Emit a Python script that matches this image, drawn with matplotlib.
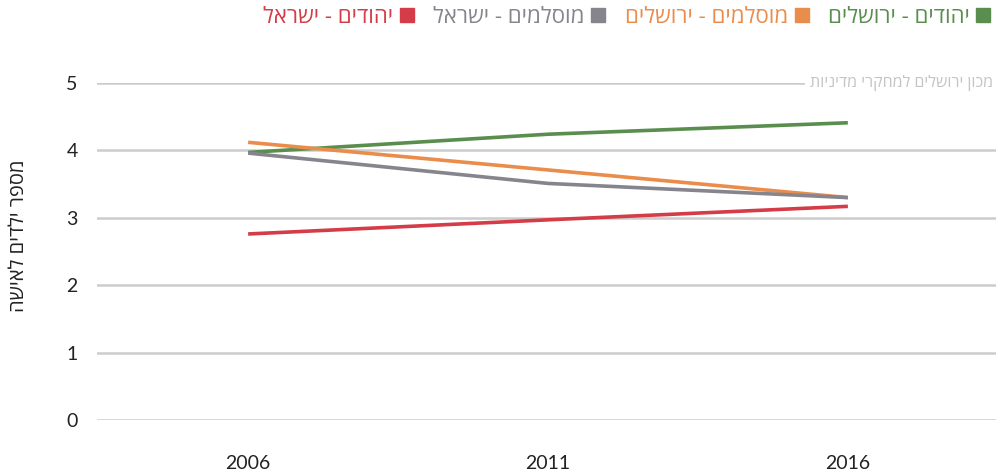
import matplotlib
matplotlib.use("Agg")
import matplotlib.pyplot as plt
from matplotlib.font_manager import FontProperties
from matplotlib.lines import Line2D

years = [2006, 2011, 2016]
jews_jerusalem = [3.97, 4.24, 4.41]
muslims_jerusalem = [4.12, 3.71, 3.30]
muslims_israel = [3.96, 3.51, 3.30]
jews_israel = [2.76, 2.97, 3.17]

labels = ["יהודים - ירושלים", "מוסלמים - ירושלים", "מוסלמים - ישראל", "יהודים - ישראל"]
colors = ["#5a8e4f", "#ea8c4b", "#86858d", "#d43c48"]
y_ticks = [0, 1, 2, 3, 4, 5]
y_title = "מספר ילדים לאישה"
credit = "מכון ירושלים למחקרי מדיניות"


def rtl(s):
    # matplotlib has no bidi support, so hand it the visual order
    return s[::-1]


heb = ["Open Sans", "DejaVu Sans"]
plt.rcParams["font.family"] = ["Lato", "DejaVu Sans"]

fig = plt.figure(figsize=(9.96, 4.71), dpi=100)
ax = fig.add_axes([97 / 996, 51 / 471, 899 / 996, 337 / 471])

series = [jews_jerusalem, muslims_jerusalem, muslims_israel, jews_israel]
for vals, lab, col in zip(series, labels, colors):
    ax.plot(years, vals, color=col, lw=2.6, solid_capstyle="butt", zorder=3)

ax.set_xlim(2003.48, 2018.47)
ax.set_ylim(0, 5)
ax.set_yticks(y_ticks)
ax.set_xticks(years)
ax.grid(axis="y", color="#cccccc", lw=1.8)
ax.grid(axis="x", visible=False)
ax.set_axisbelow(True)
for s in ax.spines.values():
    s.set_visible(False)
ax.tick_params(axis="both", length=0, labelsize=14, colors="#222222")
ax.tick_params(axis="y", pad=14)
ax.tick_params(axis="x", pad=25)

fig.text(0.019, 0.50, rtl(y_title), rotation=90, ha="center", va="center",
         fontsize=14.5, family=heb, color="#222222")

ax.text(0.997, 5.0, rtl(credit), transform=ax.get_yaxis_transform(), ha="right", va="center",
        fontsize=11.5, family=heb, color="#c4c4c4",
        bbox=dict(facecolor="white", edgecolor="none", pad=4), zorder=4)

# legend reads right to left, marker on the right of each label
proxies = [Line2D([], [], marker="s", ls="none", color=c, markersize=10) for c in colors]
order = [3, 2, 1, 0]
leg = fig.legend([proxies[i] for i in order], [rtl(labels[i]) for i in order],
                 loc="upper right", bbox_to_anchor=(1.003, 1.005), ncol=4, frameon=False,
                 markerfirst=False, handlelength=0.6, handletextpad=0.3, columnspacing=0.9,
                 borderpad=0.2, borderaxespad=0.2,
                 prop=FontProperties(family=heb, size=16))
for t, i in zip(leg.get_texts(), order):
    t.set_color(colors[i])

fig.savefig("out.png", dpi=100)
